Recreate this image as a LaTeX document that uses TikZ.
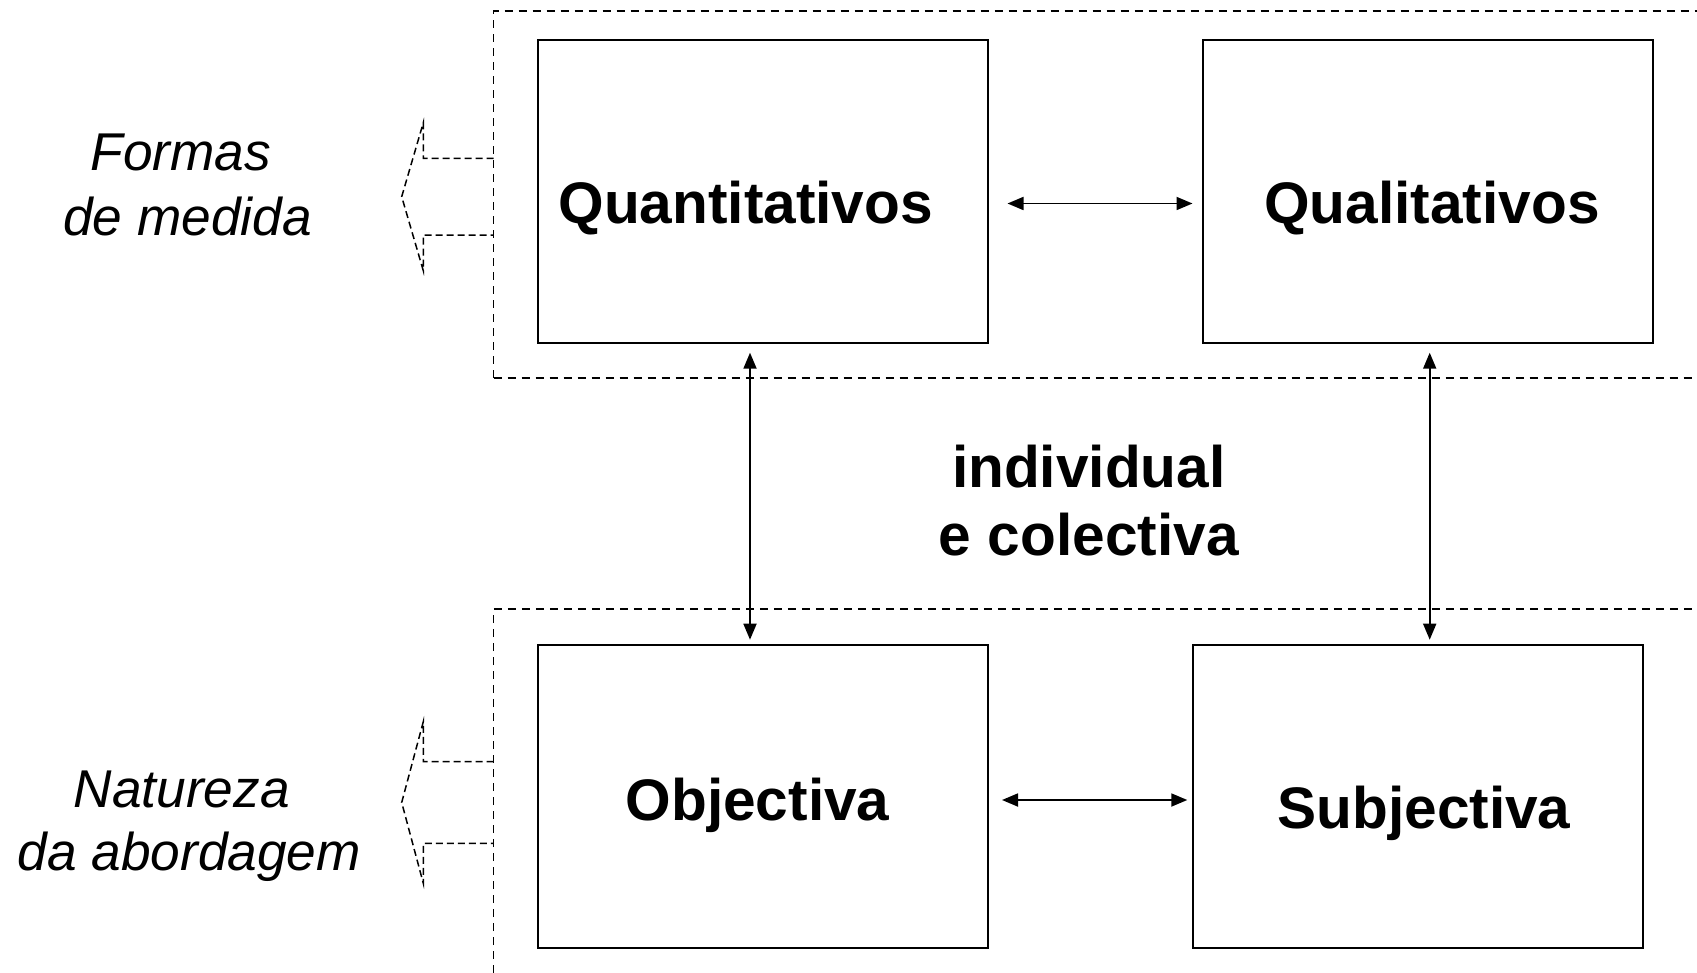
\documentclass[tikz,border=0pt]{standalone}
\usepackage{fontspec}
\setmainfont{Liberation Sans}
\usetikzlibrary{arrows.meta}

\tikzset{
  caixa/.style={draw, line width=1pt, minimum width=225pt, minimum height=151.5pt, inner sep=0pt},
  titulo/.style={anchor=base, inner sep=0pt, font=\fontsize{29.3}{34}\selectfont\bfseries},
  lado/.style={anchor=base, inner sep=0pt, font=\fontsize{26.6}{32}\selectfont\itshape},
  moldura/.style={line width=0.9pt, dash pattern=on 4pt off 3pt},
  vazada/.style={line width=0.75pt, dash pattern=on 3.5pt off 2pt},
  seta/.style={line width=0.9pt, {Triangle[length=8pt,width=6.5pt]}-{Triangle[length=8pt,width=6.5pt]}}
}

\begin{document}
\begin{tikzpicture}[x=0.5pt,y=-0.5pt]
\useasboundingbox (0,0) rectangle (1697,973);
% molduras tracejadas
\draw[moldura] (493.5,377.7) -- (493.5,10.8) -- (1697,10.8);
\draw[moldura] (493.5,377.7) -- (1697,377.7);
\draw[moldura] (493.5,973) -- (493.5,609.3) -- (1697,609.3);
% setas vazadas a esquerda
\foreach \c/\a/\b in {196.7/38.4/74, 802.5/40.8/80.8}
    \draw[vazada] (493.5,\c-\a) -- (423.3,\c-\a) -- (423.3,\c-\b) -- (401.7,\c)
        -- (423.3,\c+\b) -- (423.3,\c+\a) -- (493.5,\c+\a);
% caixas
\node[caixa] (quant) at (763,191.5) {};
\node[caixa] (qual) at (1428,191.5) {};
\node[caixa] (obj) at (763,796.5) {};
\node[caixa] (subj) at (1418,796.5) {};
\node[titulo] (quanttxt) at (745.7,224) {Quantitativos};
\node[titulo] (qualtxt) at (1432,224) {Qualitativos};
\node[titulo] (objtxt) at (757.6,820) {Objectiva};
\node[titulo] (subjtxt) at (1424,828) {Subjectiva};
\node[titulo] (indiv) at (1088.8,487) {individual};
\node[titulo] (colect) at (1088.8,555) {e colectiva};
% textos laterais
\node[lado] (formas) at (180.7,171) {Formas};
\node[lado] (medida) at (187.5,236) {de medida};
\node[lado] (natureza) at (181.8,807.4) {Natureza};
\node[lado] (abordagem) at (189.4,870) {da abordagem};
% setas
\draw[seta, shorten <=9.25pt, shorten >=4.75pt] ([yshift=-6pt]quant.east) -- ([yshift=-6pt]qual.west);
\draw[seta, shorten <=6.5pt, shorten >=2.35pt] ([yshift=-1.75pt]obj.east) -- ([yshift=-1.75pt]subj.west);
\draw[seta, shorten <=4.35pt, shorten >=2.15pt] ([xshift=-6.5pt]quant.south) -- ([xshift=-6.5pt]obj.north);
\draw[seta, shorten <=4.35pt, shorten >=2.15pt] ([xshift=0.85pt]qual.south) -- ([xshift=0.85pt]qual.south |- subj.north);
\end{tikzpicture}
\end{document}
